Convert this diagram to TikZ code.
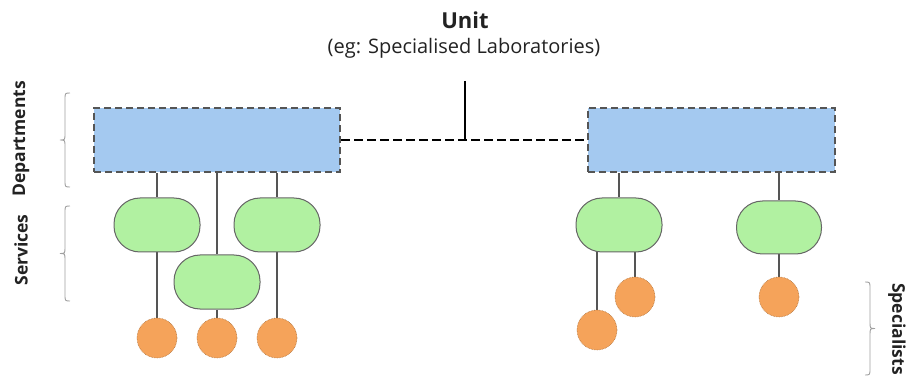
\documentclass[tikz,border=0pt]{standalone}
\usepackage{fontspec}
\setmainfont{Open Sans}
\usetikzlibrary{backgrounds}
\definecolor{deptblue}{HTML}{A4C9F0}
\definecolor{servgreen}{HTML}{B1F1A1}
\definecolor{specorange}{HTML}{F5A35A}
\definecolor{darkline}{HTML}{555555}
\definecolor{bracegray}{HTML}{A0A0A0}
\definecolor{txt}{HTML}{222222}
\tikzset{
  dept/.style={rectangle, fill=deptblue, draw=darkline, line width=2.2pt,
    dash pattern=on 7pt off 4pt, minimum width=246pt, minimum height=64pt, inner sep=0pt},
  serv/.style={rectangle, rounded corners=26pt, fill=servgreen, draw=darkline!90, line width=1pt,
    minimum width=86pt, minimum height=54pt, inner sep=0pt},
  spec/.style={circle, fill=specorange, draw=specorange!70!black, densely dotted, line width=0.6pt,
    minimum size=40pt, inner sep=0pt},
  link/.style={draw=darkline, line width=1.2pt},
  unitlink/.style={draw=black, line width=2.4pt},
  bracestyle/.style={draw=bracegray, line width=0.9pt},
  sidelabel/.style={font=\fontsize{17.5}{20}\selectfont\bfseries, text=txt, inner sep=0pt}
}
\begin{document}
\begin{tikzpicture}[x=1pt,y=-1pt]
\useasboundingbox (0,0) rectangle (907,379);
% titles
\node[font=\fontsize{22}{26}\selectfont\bfseries, text=txt, inner sep=0pt] (title) at (465,20) {Unit};
\node[font=\fontsize{20}{24}\selectfont, text=txt, inner sep=0pt] (subtitle) at (464,48) {(eg: Specialised Laboratories)};
% departments
\node[dept] (d1) at (217,140) {};
\node[dept, minimum width=247pt] (d2) at (711.5,140) {};
% services
\node[serv] (s1) at (157,225) {};
\node[serv] (s2) at (277,225) {};
\node[serv] (s3) at (217,282) {};
\node[serv] (s4) at (619,225) {};
\node[serv, minimum width=85pt, minimum height=53pt] (s5) at (779,227.5) {};
% specialists
\node[spec] (c1) at (157,338) {};
\node[spec] (c2) at (217,338) {};
\node[spec] (c3) at (277,338) {};
\node[spec] (c4) at (597,330) {};
\node[spec] (c5) at (635,297) {};
\node[spec] (c6) at (779,297) {};
% unit connector
\coordinate (utop) at (465,81);
\coordinate (ujoin) at (465,140);
\draw[unitlink, dash pattern=on 9pt off 4pt] (d1.east) -- (d2.west);
\draw[unitlink] (utop) -- (ujoin);
\begin{scope}[on background layer]
  \draw[link] (d1.south -| s1.north) -- (s1.north);
  \draw[link] (d1.south -| s2.north) -- (s2.north);
  \draw[link] (d1.south) -- (s3.north);
  \draw[link] (s1.south) -- (c1.north);
  \draw[link] (s3.south) -- (c2.north);
  \draw[link] (s2.south) -- (c3.north);
  \draw[link] (d2.south -| s4.north) -- (s4.north);
  \draw[link] (d2.south -| s5.north) -- (s5.north);
  \draw[link] (c4.north |- s4.center) -- (c4.north);
  \draw[link] (c5.north |- s4.center) -- (c5.north);
  \draw[link] (s5.south) -- (c6.north);
\end{scope}
% braces
\draw[bracestyle] (70,93) .. controls (65,93) .. (65,100) -- (65,133) .. controls (65,140) .. (60,140)
  .. controls (65,140) .. (65,147) -- (65,180) .. controls (65,187) .. (70,187);
\draw[bracestyle] (70,206) .. controls (65,206) .. (65,213) -- (65,247) .. controls (65,253.5) .. (60,253.5)
  .. controls (65,253.5) .. (65,260) -- (65,294) .. controls (65,301) .. (70,301);
\draw[bracestyle] (865,282) .. controls (870,282) .. (870,289) -- (870,322) .. controls (870,328.5) .. (875,328.5)
  .. controls (870,328.5) .. (870,335) -- (870,368) .. controls (870,375) .. (865,375);
% side labels
\node[sidelabel, rotate=90] (ldept) at (21,139) {Departments};
\node[sidelabel, rotate=90] (lserv) at (21,250) {Services};
\node[sidelabel, rotate=-90] (lspec) at (897,329) {Specialists};
\end{tikzpicture}
\end{document}
